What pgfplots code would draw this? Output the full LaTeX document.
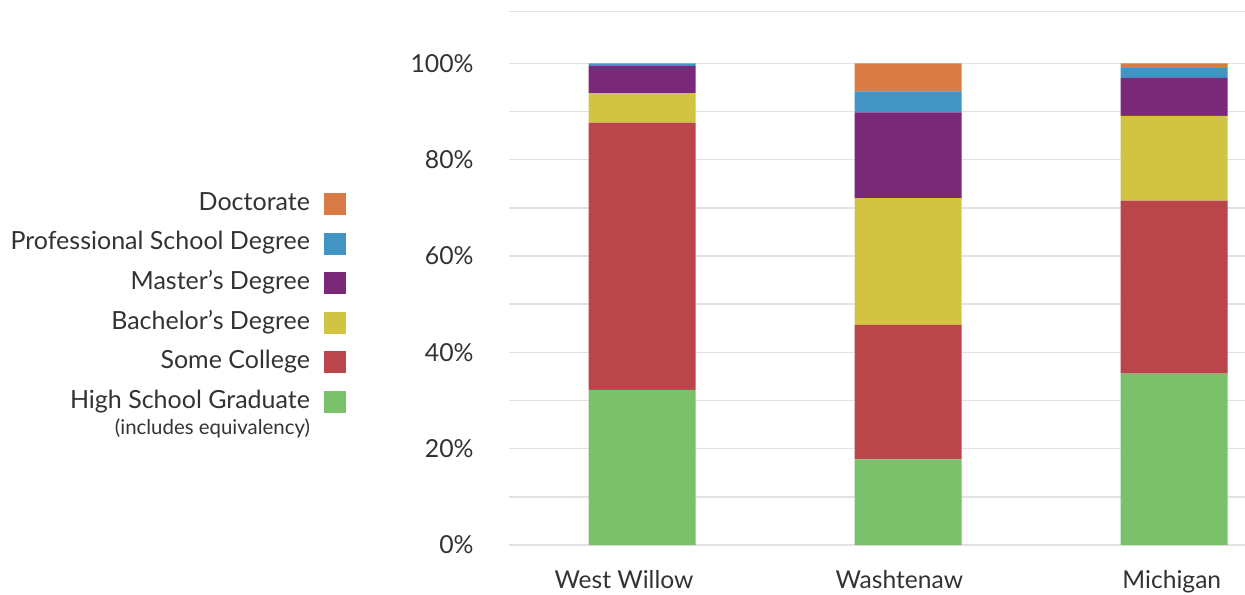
\documentclass[border=0pt]{standalone}
\usepackage{pgfplots}
\pgfplotsset{compat=1.18}
\usepackage{fontspec}
\setmainfont{Lato}

\definecolor{hsgreen}{HTML}{7BC06A}
\definecolor{scred}{HTML}{BA464B}
\definecolor{bayellow}{HTML}{D1C443}
\definecolor{mapurple}{HTML}{7A2978}
\definecolor{profblue}{HTML}{4194C3}
\definecolor{docorange}{HTML}{D97B45}
\definecolor{txt}{HTML}{333333}
\definecolor{gridc}{HTML}{E2E2E2}

% Educational attainment shares (percent), one row per area: 0 West Willow, 1 Washtenaw, 2 Michigan
\pgfplotstableread{
x  hs    sc    ba    ma    prof  doc
0  32.2  55.5  6.1   5.6   0.6   0.0
1  17.8  27.9  26.3  17.8  4.4   5.8
2  35.6  35.9  17.6  7.9   2.0   1.0
}\attain

\begin{document}
\begin{tikzpicture}
\useasboundingbox (-254.5pt,-24.5pt) rectangle (368pt,272.5pt);
\begin{axis}[
  at={(0pt,0pt)}, anchor=south west,
  scale only axis, width=368pt, height=266.85pt,
  xmin=-0.5, xmax=2.266, ymin=0, ymax=110.8,
  ybar stacked, bar width=53.5pt,
  axis line style={draw=none}, tick style={draw=none},
  xtick={-0.068,0.967,1.991}, xticklabels={West Willow,Washtenaw,Michigan},
  ytick={0,20,...,100}, minor ytick={10,30,...,90},
  ymajorgrids, yminorgrids,
  major grid style={gridc, line width=0.75pt},
  minor grid style={gridc, line width=0.75pt},
  extra y ticks={110.8}, extra y tick labels={},
  extra y tick style={grid=major},
  /pgf/number format/assume math mode=true,
  yticklabel={\pgfmathprintnumber{\tick}\%},
  yticklabel style={anchor=east, inner sep=0pt, xshift=-17.5pt, font=\fontsize{12.4}{14}\selectfont, text=txt},
  xticklabel style={anchor=north, inner sep=0pt, yshift=-12.5pt, font=\fontsize{12.3}{14}\selectfont, text=txt},
  reverse legend,
  legend plot pos=right,
  legend cell align=right,
  legend image code/.code={\fill[#1] (0pt,-5pt) rectangle (11pt,6pt);},
  legend style={at={(-0.2215,0.6596)}, anchor=north east, draw=none, fill=none,
    inner sep=0pt, outer sep=0pt, column sep=7pt, row sep=8.1pt,
    font=\fontsize{12.5}{14}\selectfont, text=txt,
    nodes={inner sep=0pt, text height=8.4pt, text depth=3pt}},
]
\addlegendimage{empty legend}
\addlegendentry{\raisebox{6.2pt}{\fontsize{10.2}{12}\selectfont (includes equivalency)}}
\addplot[fill=hsgreen, draw=none] table[x=x, y=hs] {\attain};
\addlegendentry{High School Graduate}
\addplot[fill=scred, draw=none] table[x=x, y=sc] {\attain};
\addlegendentry{Some College}
\addplot[fill=bayellow, draw=none] table[x=x, y=ba] {\attain};
\addlegendentry{Bachelor’s Degree}
\addplot[fill=mapurple, draw=none] table[x=x, y=ma] {\attain};
\addlegendentry{Master’s Degree}
\addplot[fill=profblue, draw=none] table[x=x, y=prof] {\attain};
\addlegendentry{Professional School Degree}
\addplot[fill=docorange, draw=none] table[x=x, y=doc] {\attain};
\addlegendentry{Doctorate}
\end{axis}
\end{tikzpicture}
\end{document}
